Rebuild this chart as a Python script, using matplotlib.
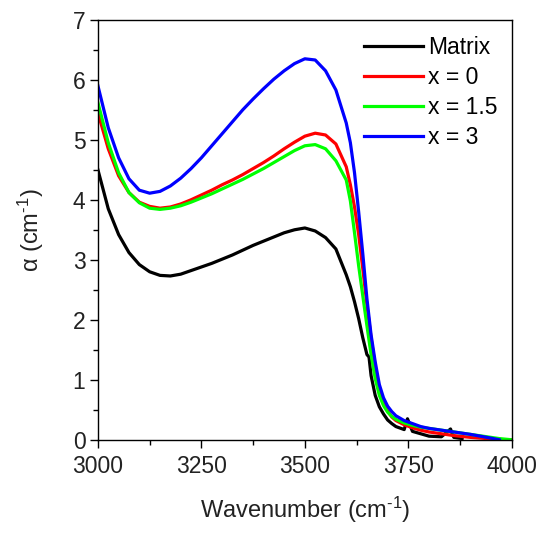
import numpy as np
import matplotlib
matplotlib.use("Agg")
import matplotlib.pyplot as plt
from matplotlib.ticker import MultipleLocator

plt.rcParams['font.family'] = ['Liberation Sans', 'DejaVu Sans']
plt.rcParams['mathtext.fontset'] = 'custom'
plt.rcParams['mathtext.rm'] = 'Liberation Sans'
plt.rcParams['mathtext.default'] = 'regular'

# wavenumber grid (cm-1)
wn = [3000, 3025, 3050, 3075, 3100, 3125, 3150, 3175, 3200, 3225, 3250, 3275,
      3300, 3325, 3350, 3375, 3400, 3425, 3450, 3475, 3500, 3525, 3550, 3575,
      3600, 3610, 3620, 3630, 3640, 3650, 3660, 3670, 3680, 3690, 3700, 3710,
      3720, 3740, 3760, 3780, 3800, 3830, 3860, 3900, 3940, 3970, 4000]

alpha_x0 = [5.45, 4.85, 4.40, 4.12, 3.96, 3.89, 3.86, 3.88, 3.93, 4.00, 4.08, 4.16,
            4.25, 4.33, 4.42, 4.52, 4.62, 4.73, 4.85, 4.96, 5.06, 5.11, 5.08, 4.93,
            4.55, 4.25, 3.88, 3.42, 2.85, 2.25, 1.70, 1.22, 0.85, 0.62, 0.48, 0.38,
            0.32, 0.25, 0.20, 0.16, 0.13, 0.10, 0.07, 0.04, 0.02, 0.00, 0.00]

alpha_x15 = [5.62, 4.95, 4.45, 4.12, 3.95, 3.86, 3.84, 3.86, 3.90, 3.96, 4.03, 4.10,
             4.18, 4.26, 4.34, 4.43, 4.52, 4.62, 4.72, 4.82, 4.90, 4.92, 4.85, 4.65,
             4.33, 3.98, 3.45, 2.90, 2.40, 1.90, 1.42, 1.02, 0.74, 0.57, 0.46, 0.39,
             0.34, 0.28, 0.24, 0.21, 0.19, 0.16, 0.13, 0.09, 0.05, 0.02, 0.00]

alpha_x3 = [5.90, 5.20, 4.70, 4.35, 4.16, 4.11, 4.14, 4.23, 4.36, 4.52, 4.70, 4.90,
            5.10, 5.30, 5.50, 5.68, 5.85, 6.01, 6.15, 6.27, 6.35, 6.33, 6.15, 5.83,
            5.28, 4.95, 4.45, 3.80, 3.10, 2.35, 1.75, 1.30, 0.92, 0.70, 0.56, 0.47,
            0.40, 0.32, 0.27, 0.22, 0.19, 0.16, 0.13, 0.09, 0.04, 0.00, None]

# matrix spectrum is noisy, sampled separately
wn_m = [3000, 3025, 3050, 3075, 3100, 3125, 3150, 3175, 3200, 3225, 3250, 3275,
        3300, 3325, 3350, 3375, 3400, 3425, 3450, 3475, 3500, 3525, 3550, 3575,
        3600, 3610, 3620, 3630, 3640, 3650, 3655, 3660, 3670, 3680, 3690, 3700,
        3710, 3720, 3740, 3748, 3752, 3760, 3780, 3800, 3830, 3852, 3856, 3860, 3880]
alpha_m = [4.50, 3.85, 3.42, 3.12, 2.92, 2.80, 2.74, 2.73, 2.76, 2.82, 2.88, 2.94,
           3.01, 3.08, 3.16, 3.24, 3.31, 3.38, 3.45, 3.50, 3.53, 3.48, 3.37, 3.18,
           2.75, 2.55, 2.30, 2.02, 1.70, 1.42, 1.38, 1.07, 0.74, 0.55, 0.43, 0.33,
           0.27, 0.22, 0.17, 0.35, 0.28, 0.14, 0.10, 0.06, 0.05, 0.18, 0.10, 0.04, 0.02]

series = [("Matrix", wn_m, alpha_m, "black"),
          ("x = 0", wn, alpha_x0, "red"),
          ("x = 1.5", wn, alpha_x15, "#00ff00"),
          ("x = 3", wn[:-1], alpha_x3[:-1], "blue")]

fig = plt.figure(figsize=(5.41, 5.35), dpi=100)
ax = fig.add_axes([0.181, 0.178, 0.765, 0.785])

for label, x, y, c in series:
    ax.plot(x, y, color=c, lw=2.3, label=label, solid_joinstyle='round')

ax.set_xlim(3000, 4000)
ax.set_ylim(0, 7)
ax.xaxis.set_major_locator(MultipleLocator(250))
ax.xaxis.set_minor_locator(MultipleLocator(125))
ax.yaxis.set_major_locator(MultipleLocator(1))
ax.yaxis.set_minor_locator(MultipleLocator(0.5))
ax.tick_params(which='both', direction='out', top=False, right=False,
               labelsize=16.5, labelcolor='#222222')
ax.tick_params(which='major', length=6, width=1)
ax.tick_params(which='minor', length=3.5, width=1)
ax.tick_params(axis='y', pad=3)
ax.tick_params(axis='x', pad=5)
for s in ax.spines.values():
    s.set_linewidth(1)

ax.set_xlabel("Wavenumber (cm$^{\u20101}$)", fontsize=17, color='#222222', labelpad=12)
ax.set_ylabel("$\\alpha$ (cm$^{\u20101}$)", fontsize=17, color='#222222', labelpad=19)

ax.legend(loc='upper right', bbox_to_anchor=(1.015, 1.01), frameon=False, fontsize=16.5,
          handlelength=2.6, handletextpad=0.2, labelspacing=0.3)

fig.savefig("out.png", dpi=100)
